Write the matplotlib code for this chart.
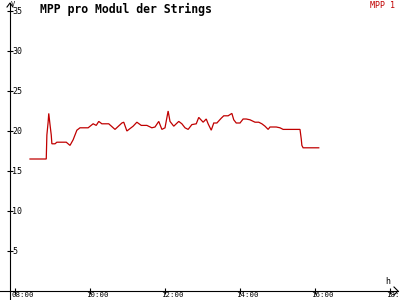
import matplotlib
matplotlib.use("Agg")
import matplotlib.pyplot as plt
from matplotlib.transforms import ScaledTranslation

times = ["08:24", "08:50", "08:51", "08:53", "08:54", "08:56", "08:58", "08:59",
         "09:04", "09:07", "09:22", "09:28", "09:33", "09:39", "09:44", "09:57",
         "10:05", "10:10", "10:14", "10:19", "10:30", "10:40", "10:51", "10:54",
         "10:59", "11:09", "11:15", "11:22", "11:31", "11:39", "11:44", "11:50",
         "11:55", "12:00", "12:05", "12:08", "12:14", "12:22", "12:27", "12:32",
         "12:37", "12:43", "12:50", "12:54", "13:01", "13:06", "13:09", "13:14",
         "13:18", "13:23", "13:30", "13:34", "13:41", "13:47", "13:50", "13:54",
         "14:00", "14:05", "14:10", "14:16", "14:24", "14:30", "14:35", "14:40",
         "14:45", "14:48", "14:58", "15:04", "15:09", "15:36", "15:38", "15:39",
         "15:41", "16:06"]
values = [16.5, 16.5, 19.5, 21.1, 22.2, 20.8, 19.5, 18.4,
          18.4, 18.6, 18.6, 18.2, 18.9, 20.1, 20.4, 20.4,
          20.9, 20.7, 21.2, 20.9, 20.9, 20.2, 21.0, 21.1,
          20.0, 20.6, 21.1, 20.7, 20.7, 20.4, 20.5, 21.2,
          20.2, 20.4, 22.5, 21.2, 20.6, 21.2, 20.9, 20.4,
          20.2, 20.8, 20.9, 21.7, 21.1, 21.5, 20.9, 20.1,
          21.0, 21.0, 21.6, 21.9, 21.9, 22.2, 21.4, 21.0,
          21.0, 21.5, 21.5, 21.4, 21.1, 21.1, 20.9, 20.6,
          20.2, 20.5, 20.5, 20.4, 20.2, 20.2, 19.0, 18.2,
          17.9, 17.9]
x_ticks = [8, 10, 12, 14, 16, 18]
x_tick_labels = ["08:00", "10:00", "12:00", "14:00", "16:00", "18:00"]
y_ticks = [5, 10, 15, 20, 25, 30, 35]
y_tick_labels = ["5", "10", "15", "20", "25", "30", "35"]
title = "MPP pro Modul der Strings"
series_name = "MPP 1"

hours = [int(t[:2]) + int(t[3:]) / 60 for t in times]

W, H = 400, 300
fig = plt.figure(figsize=(4, 3), dpi=100)
fig.patch.set_facecolor("white")
ax = fig.add_axes([10 / W, 9 / H, 388 / W, 280 / H])
ax.set_facecolor("white")
ax.set_xlim(8 - 5 / 37.5, 8 + 383 / 37.5)
ax.set_ylim(0, 35)

red = "#c00000"
mono = "DejaVu Sans Mono"
ax.plot(hours, values, color=red, lw=0.9, solid_joinstyle="miter")

for s in ax.spines.values():
    s.set_visible(False)

lw_ax = 0.8
fig.add_artist(plt.Line2D([0, 398 / W], [9 / H, 9 / H], color="black", lw=lw_ax))
fig.add_artist(plt.Line2D([10 / W, 10 / W], [1 / H, 297 / H], color="black", lw=lw_ax))
fig.add_artist(plt.Line2D([394 / W, 398 / W, 394 / W], [13 / H, 9 / H, 5 / H], color="black", lw=lw_ax))
fig.add_artist(plt.Line2D([7 / W, 10 / W, 13 / W], [293 / H, 297 / H, 293 / H], color="black", lw=lw_ax))

ax.set_xticks(x_ticks)
ax.set_xticklabels(x_tick_labels, fontfamily=mono, fontsize=5.3)
ax.set_yticks(y_ticks)
ax.set_yticklabels(y_tick_labels, fontfamily=mono, fontsize=6)
ax.tick_params(axis="both", direction="inout", length=5, width=lw_ax, color="black")
ax.tick_params(axis="x", pad=-1.8)
ax.tick_params(axis="y", pad=-4)
for lab in ax.get_yticklabels():
    lab.set_horizontalalignment("left")
off = ScaledTranslation(-4 / 100, 0, fig.dpi_scale_trans)
for lab in ax.get_xticklabels():
    lab.set_horizontalalignment("left")
    lab.set_transform(lab.get_transform() + off)

fig.text(40 / W, 1 - 9 / H, title, fontfamily=mono, fontweight="bold", fontsize=8.3,
         ha="left", va="center", color="black")
fig.text(370 / W, 1 - 6 / H, series_name, fontfamily=mono, fontsize=6,
         ha="left", va="center", color=red)
fig.text(385 / W, 1 - 282 / H, "h", fontfamily=mono, fontsize=6, ha="left", va="center")
fig.text(11 / W, 1 - 4 / H, "V", fontfamily=mono, fontsize=5, ha="left", va="center")

fig.savefig("out.png", dpi=100, facecolor="white")
